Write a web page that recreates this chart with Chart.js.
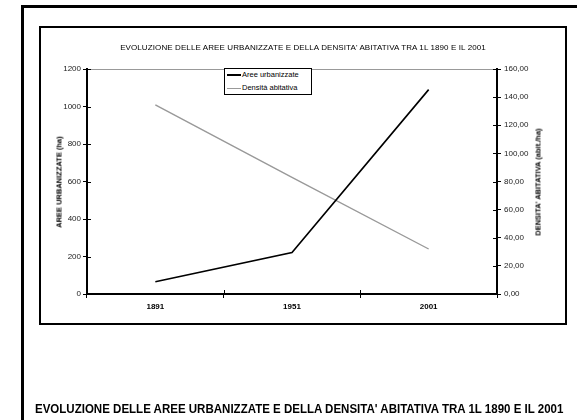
<!DOCTYPE html>
<html>
<head>
<meta charset="utf-8">
<script src="https://cdn.jsdelivr.net/npm/chart.js@4/dist/chart.umd.min.js"></script>
<style>
  body { margin: 0; background: #fff; font-family: 'Liberation Sans', Arial, sans-serif; color: #000; }
  .wrap { position: relative; width: 577px; height: 420px; overflow: hidden; }
  .outer { position: absolute; left: 21px; top: 5px; width: 600px; height: 450px; border: 3px solid #000; box-sizing: border-box; }
  .inner { position: absolute; left: 39px; top: 26px; width: 528px; height: 299px; border: 2px solid #000; box-sizing: border-box; }
  canvas { position: absolute; left: 0; top: 0; }
  .title { position: absolute; left: 39px; width: 528px; top: 43px; text-align: center; font-size: 8px; letter-spacing: 0.1px; }
  .ytitle { position: absolute; font-size: 7.5px; font-weight: bold; white-space: nowrap; transform: translate(-50%, -50%) rotate(-90deg); }
  .legend { position: absolute; left: 224px; top: 68px; width: 88px; height: 27px; border: 1px solid #000; box-sizing: border-box; background: #fff; font-size: 7.5px; z-index: 2; }
  .legend div { position: absolute; left: 2px; height: 11px; line-height: 11px; white-space: nowrap; color: #000; }
  .legend span { display: inline-block; width: 14px; vertical-align: middle; margin-right: 1px; }
  .caption { position: absolute; left: 35px; top: 402px; font-size: 12.5px; font-weight: bold; white-space: nowrap; transform-origin: 0 0; }
</style>
</head>
<body>
<div class="wrap">
  <div class="outer"></div>
  <div class="inner"></div>
  <canvas id="myChart" width="577" height="420"></canvas>
  <div class="title">EVOLUZIONE DELLE AREE URBANIZZATE E DELLA DENSITA' ABITATIVA TRA 1L 1890 E IL 2001</div>
  <div class="ytitle" style="left:59px; top:182px;">AREE URBANIZZATE (ha)</div>
  <div class="ytitle" style="left:538px; top:182px;">DENSITA' ABITATIVA (abit./ha)</div>
  <div class="legend">
    <div style="top:0px;"><span style="border-top:2px solid #000;"></span>Aree urbanizzate</div>
    <div style="top:13px;"><span style="border-top:1.5px solid #999;"></span>Densità abitativa</div>
  </div>
  <div class="caption" id="caption">EVOLUZIONE DELLE AREE URBANIZZATE E DELLA DENSITA' ABITATIVA TRA 1L 1890 E IL 2001</div>
</div>
<script>
var years = ['1891', '1951', '2001']
var areeValues = [65, 221, 1090]
var densitaValues = [134.5, 83, 32]
var leftTicks = [0, 200, 400, 600, 800, 1000, 1200]
var rightTicks = [0, 20, 40, 60, 80, 100, 120, 140, 160]

// small inward tick marks (Excel style cross ticks)
var crossTicks = {
  id: 'crossTicks',
  afterDraw: function (chart) {
    var ctx = chart.ctx
    var a = chart.chartArea
    ctx.save()
    ctx.strokeStyle = '#000'
    ctx.lineWidth = 1
    chart.scales.y.ticks.forEach(function (t) {
      var py = Math.round(chart.scales.y.getPixelForValue(t.value)) + 0.5
      ctx.beginPath(); ctx.moveTo(a.left, py); ctx.lineTo(a.left + 4, py); ctx.stroke()
    })
    chart.scales.y1.ticks.forEach(function (t) {
      var py = Math.round(chart.scales.y1.getPixelForValue(t.value)) + 0.5
      ctx.beginPath(); ctx.moveTo(a.right - 4, py); ctx.lineTo(a.right, py); ctx.stroke()
    })
    var xs = chart.scales.x
    for (var i = 1; i < years.length; i++) {
      var px = Math.round((xs.getPixelForTick(i - 1) + xs.getPixelForTick(i)) / 2) + 0.5
      ctx.beginPath(); ctx.moveTo(px, a.bottom); ctx.lineTo(px, a.bottom - 4); ctx.stroke()
    }
    ctx.restore()
  }
}

var tickFont = { family: "'Liberation Sans', Arial, sans-serif", size: 8 }

new Chart('myChart', {
  type: 'line',
  data: {
    labels: years,
    datasets: [
      {
        label: 'Aree urbanizzate',
        data: areeValues,
        borderColor: '#000',
        borderWidth: 1.6,
        pointRadius: 0,
        yAxisID: 'y',
      },
      {
        label: 'Densità abitativa',
        data: densitaValues,
        borderColor: '#999',
        borderWidth: 1.4,
        pointRadius: 0,
        yAxisID: 'y1',
      },
    ],
  },
  options: {
    responsive: false,
    animation: false,
    layout: { padding: { left: 40, top: 69, right: 0, bottom: 0 } },
    plugins: {
      legend: { display: false },
      title: { display: false },
      tooltip: { enabled: false },
    },
    scales: {
      x: {
        offset: true,
        afterFit: function (s) { s.height = 126 },
        border: { color: '#000', width: 2 },
        grid: { offset: true, drawOnChartArea: false, tickLength: 4, color: '#000' },
        ticks: { color: '#000', padding: 4, font: { family: tickFont.family, size: 8, weight: 'bold' } },
      },
      y: {
        position: 'left',
        min: 0,
        max: 1200,
        afterFit: function (s) { s.width = 47 },
        afterBuildTicks: function (s) { s.ticks = leftTicks.map(function (v) { return { value: v } }) },
        border: { color: '#000', width: 2 },
        grid: {
          tickLength: 4,
          tickColor: '#000',
          color: function (c) { return c.tick && c.tick.value === 1200 ? '#999' : 'rgba(0,0,0,0)' },
        },
        ticks: { color: '#222', padding: 2, font: tickFont, callback: function (v) { return String(v) } },
      },
      y1: {
        position: 'right',
        min: 0,
        max: 160,
        afterFit: function (s) { s.width = 80 },
        afterBuildTicks: function (s) { s.ticks = rightTicks.map(function (v) { return { value: v } }) },
        border: { color: '#000', width: 2 },
        grid: { drawOnChartArea: false, tickLength: 4, color: '#000' },
        ticks: {
          color: '#222',
          padding: 3,
          font: tickFont,
          callback: function (v) { return v.toFixed(2).replace('.', ',') },
        },
      },
    },
  },
  plugins: [crossTicks],
})

// stretch the bottom caption to the width it has in the picture
var cap = document.getElementById('caption')
cap.style.transform = 'scaleX(' + (528 / cap.offsetWidth) + ')'
</script>
</body>
</html>
